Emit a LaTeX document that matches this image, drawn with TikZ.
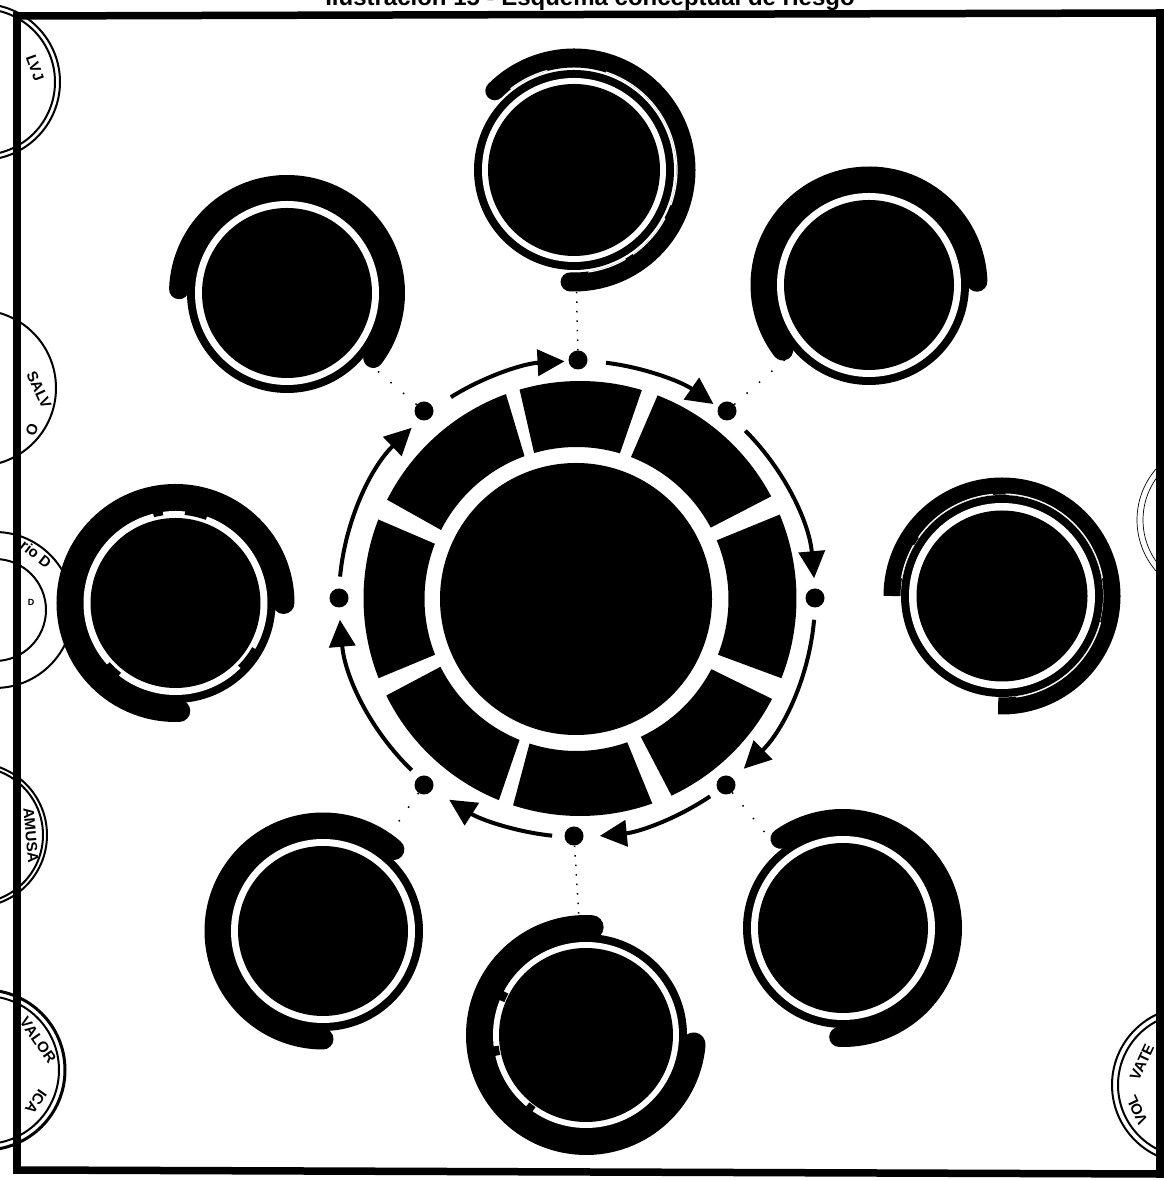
\documentclass[tikz,border=0pt]{standalone}
\usepackage{fontspec}
\setmainfont{Liberation Sans}
\usetikzlibrary{arrows.meta}
\newcommand\arcs[7]{\draw[line width=#2pt,draw=#1] ({#3+#5*cos(#6)},{1180-#4+#5*sin(#6)}) arc[start angle=#6,end angle=#7,radius=#5 pt];}
\newcommand\satcap{round}
% name cx cy rdisc rwhite start end arcmid arcwidth
\newcommand\sat[9]{%
  \fill[black] ({#2},{1180-#3}) circle[radius={#5+8}];
  \draw[line width=#9 pt,line cap=\satcap,draw=black] ({#2+#8*cos(#6)},{1180-#3+#8*sin(#6)}) arc[start angle=#6,end angle=#7,radius=#8 pt];
  \fill[white] ({#2},{1180-#3}) circle[radius=#5];
  \node[satdisc,minimum size={2*#4 pt}] (#1) at ({#2},{1180-#3}) {};
}
\newcommand\seg[2]{\fill[black] ({580+216.5*cos(#1)},{581.5+217.5*sin(#1)}) arc[start angle=#1,end angle=#2,x radius=216.5pt,y radius=217.5pt] -- ({576.5+152*cos(#2)},{581+152*sin(#2)}) arc[start angle=#2,end angle=#1,radius=152pt] -- cycle;}
\newcommand\flowarc[3]{\coordinate (#1) at ({577+238*cos(#2)},{581+238*sin(#2)}); \draw[flow] (#1) arc[start angle=#2,end angle=#3,radius=238pt];}
\tikzset{
  satdisc/.style={circle,fill=black,inner sep=0pt},
  hubdot/.style={circle,fill=black,inner sep=0pt,minimum size=19pt},
  flow/.style={line width=4pt,draw=black,-{Triangle[length=27pt,width=26pt]}},
  link/.style={draw=black,line width=1.5pt,dash pattern=on 1.5pt off 8pt},
  farlink/.style={draw=black,line width=1.5pt,dash pattern=on 1.5pt off 15pt},
  stamp/.style={draw=black,line width=2pt},
  stamptext/.style={font=\bfseries\fontsize{15}{15}\selectfont,inner sep=0pt},
  frameline/.style={draw=black,line width=7.5pt,line cap=rect}
}
\begin{document}
\begin{tikzpicture}[x=1pt,y=1pt]
\useasboundingbox (0,0) rectangle (1163,1180);
\fill[white] (0,0) rectangle (1163,1180);
% stamps
\draw[stamp] (-18,1098) circle[radius=78]; \draw[stamp] (-18,1098) circle[radius=73];
\node[stamptext,rotate=-70] (s1a) at (35,1112) {LVJ};
\draw[stamp] (-22,792) circle[radius=78];
\node[stamptext,rotate=-65] (s2a) at (39,790) {SALV};
\node[stamptext,rotate=-110] (s2b) at (32,750) {O};
\draw[stamp] (-5,570) circle[radius=78]; \draw[stamp] (-5,570) circle[radius=51];
\node[stamptext,rotate=-38] (s3a) at (36,626) {rio D};
\node[stamptext,font=\bfseries\fontsize{9}{9}\selectfont] (s3b) at (31,578) {D};
\draw[stamp] (-25,345) circle[radius=72]; \draw[stamp] (-25,345) circle[radius=68];
\node[stamptext,rotate=-85] (s4a) at (31,345) {AMUSA};
\draw[line width=3pt] (-15,110) circle[radius=80]; \draw[stamp] (-15,110) circle[radius=74];
\node[stamptext,rotate=-55] (s5a) at (38,140) {VALOR};
\node[stamptext,rotate=-125] (s5b) at (36,78) {ICA};
\draw[draw=black,line width=.7pt] (1215,660) circle[radius=78]; \draw[draw=black,line width=.7pt] (1215,660) circle[radius=72];
\draw[stamp] (1190,95) circle[radius=78]; \draw[stamp] (1190,95) circle[radius=72];
\node[stamptext,rotate=65] (s7a) at (1142,118) {VATE};
\node[stamptext,rotate=115] (s7b) at (1137,70) {VOL};
% hub
\seg{73.4}{106.2}\seg{110}{153}\seg{158.7}{201.5}\seg{206.5}{248}
\seg{252}{289.5}\seg{295}{332.5}\seg{338.5}{382.7}\seg{28}{69}
\node[satdisc,minimum size=272pt] (hub) at (576,581) {};
% dots
\node[hubdot] (d1) at (578,820) {};
\node[hubdot] (d2) at (727,769) {};
\node[hubdot] (d3) at (815,582) {};
\node[hubdot] (d4) at (726,395) {};
\node[hubdot] (d5) at (574,344) {};
\node[hubdot] (d6) at (424,395) {};
\node[hubdot] (d7) at (339,582) {};
\node[hubdot] (d8) at (424,769) {};
% flow arrows
\flowarc{f1}{122}{93}
\flowarc{f2}{83}{55}
\flowarc{f3}{45}{5}
\flowarc{f4}{-5}{-45.5}
\flowarc{f5}{-56}{-84.5}
\flowarc{f6}{-96}{-122.5}
\flowarc{f7}{-134}{-175}
\flowarc{f8}{174.6}{134}
% link ends, at the centres of the satellites drawn over them
\coordinate (ctop) at (574,1010);
\coordinate (cbot) at (586,145);
\coordinate (cur) at (869,895);
\coordinate (cul) at (287,887);
\coordinate (clr) at (843,252);
\coordinate (cll) at (323,249);
\draw[link] (d1) -- (ctop);
\draw[link] (d5) -- (cbot);
\draw[farlink] (d4) -- (clr);
\draw[farlink] (d6) -- (cll);
\draw[farlink] (d2) -- (cur);
\draw[farlink] (d8) -- (cul);
% satellites
\sat{top}{574}{170}{86}{92}{135}{-92}{112}{19}
\sat{ul}{287}{293}{85}{92}{178}{-37}{108}{20}
\sat{ur}{869}{285}{85}{92}{2}{217}{108}{21}
\renewcommand\satcap{butt}
\sat{right}{1002}{596}{85.5}{93}{180}{-92}{110}{17}
\renewcommand\satcap{round}
\sat{lr}{843}{928}{85}{92}{125}{-92}{109}{20}
\sat{bot}{586}{1035}{87}{93}{-5}{-273}{108}{24}
\sat{ll}{323}{931}{85}{92}{49}{270}{108}{21}
\sat{left}{175.5}{603}{85}{92}{0}{272}{108}{22}
% thin white slivers
\arcs{white}{1.2}{574}{170}{103}{128}{105}
\arcs{white}{1.2}{574}{170}{103}{72}{-20}
\arcs{white}{1.2}{574}{170}{103}{-28}{-55}
\arcs{white}{1.2}{574}{170}{103}{-60}{-82}
\arcs{white}{1.2}{1002}{596}{102}{170}{150}
\arcs{white}{1.2}{1002}{596}{102}{145}{95}
\arcs{white}{1.2}{1002}{596}{102}{88}{10}
\arcs{white}{1.2}{1002}{596}{102}{-15}{-82}
% breaks in the white rings
\arcs{black}{7}{175.5}{603}{92}{84}{70}
\arcs{black}{7}{175.5}{603}{92}{98}{104}
\arcs{black}{7}{175.5}{603}{92}{-30}{-45}
\arcs{black}{7}{175.5}{603}{92}{-128}{-138}
\arcs{black}{6}{586}{1035}{91}{158}{152}
\arcs{black}{6}{586}{1035}{91}{187}{193}
\arcs{black}{6}{586}{1035}{91}{-125}{-130}
% frame
\draw[frameline] (17,1164) -- (1163,1167);
\draw[frameline] (17,1164) -- (17,10);
\draw[frameline] (17,10) -- (1163,6);
\draw[frameline] (1160,1167) -- (1160,6);
% title
\node[anchor=base,inner sep=0pt,font=\bfseries\fontsize{24}{24}\selectfont] (title) at (590,1174) {Ilustración 15 - Esquema conceptual de riesgo};
\end{tikzpicture}
\end{document}
